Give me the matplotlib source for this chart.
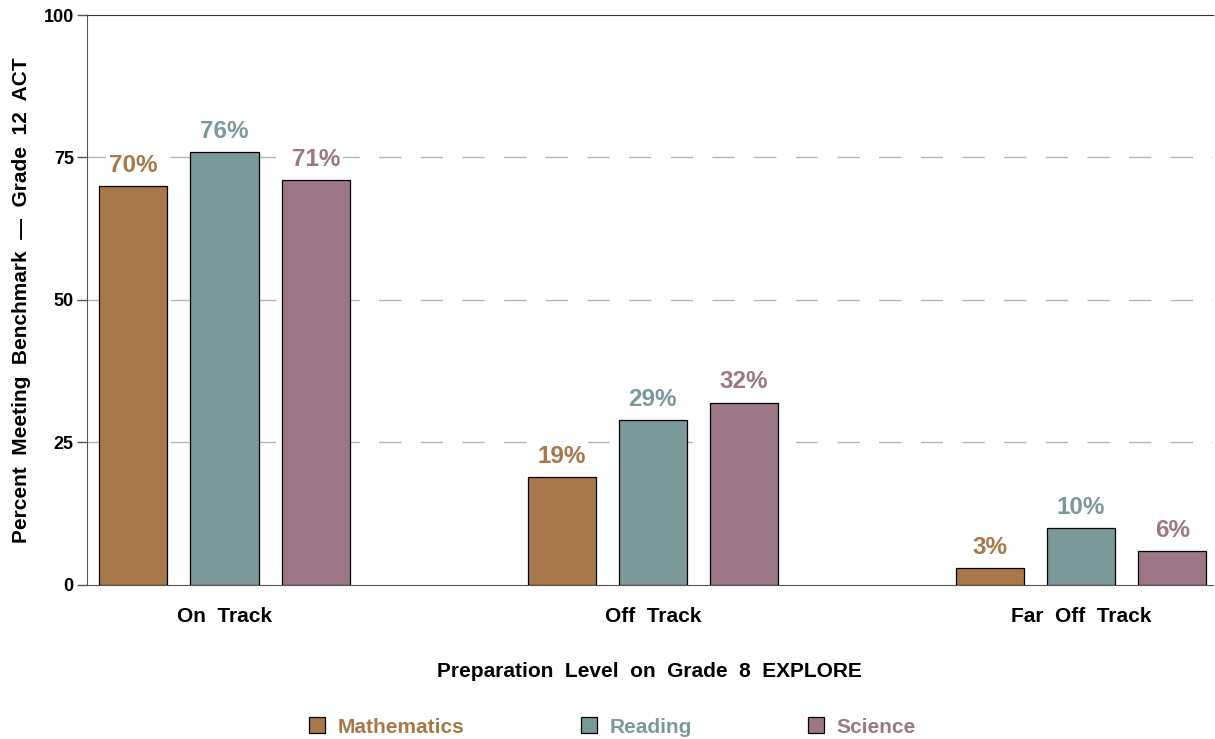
import matplotlib
matplotlib.use("Agg")
import matplotlib.pyplot as plt
import numpy as np

categories = ["On  Track", "Off  Track", "Far  Off  Track"]
series = ["Mathematics", "Reading", "Science"]
math_vals = [70, 19, 3]
reading_vals = [76, 29, 10]
science_vals = [71, 32, 6]
yticks = [0, 25, 50, 75, 100]

colors = ["#A8774A", "#7A9A9A", "#9B7787"]
text_colors = ["#A8774A", "#7A9A9A", "#9B7787"]

plt.rcParams['font.family'] = ['Liberation Sans', 'DejaVu Sans']

fig = plt.figure(figsize=(12.15, 7.39), dpi=100)
ax = fig.add_axes([0.0716, 0.2084, 0.9264, 0.7713])

x = np.arange(len(categories))
width = 0.159
offset = 0.213
vals = [math_vals, reading_vals, science_vals]
handles = []
for i, (name, v) in enumerate(zip(series, vals)):
    pos = x + (i - 1) * offset
    b = ax.bar(pos, v, width, color=colors[i], edgecolor="black", linewidth=0.9, label=name, zorder=3)
    handles.append(b)
    for p, val in zip(pos, v):
        ax.text(p, val + 1.6, f"{val}%", ha="center", va="bottom", color=text_colors[i],
                fontsize=17.5, fontweight="bold", zorder=4,
                bbox=dict(facecolor="white", edgecolor="none", pad=2))

ax.set_xlim(-0.321, 2.307)
ax.set_ylim(0, 100)
ax.set_yticks(yticks)
ax.set_yticklabels([str(t) for t in yticks], fontsize=13, fontweight="bold")
ax.set_xticks(x)
ax.set_xticklabels(categories, fontsize=15, fontweight="bold")
ax.tick_params(axis="x", length=0, pad=16)
ax.tick_params(axis="y", length=7, width=1, color="#555555", direction="out", pad=2.5)

for t in [25, 50, 75]:
    ax.axhline(t, color="#b5b5b5", linestyle=(0, (16, 14)), linewidth=1, zorder=1)

ax.spines["right"].set_visible(False)
ax.spines["top"].set_color("#333333")
ax.spines["left"].set_color("#555555")
ax.spines["bottom"].set_color("#555555")

ax.set_xlabel("Preparation  Level  on  Grade  8  EXPLORE", fontsize=15, fontweight="bold", labelpad=26)
ax.set_ylabel("Percent  Meeting  Benchmark  \u2014  Grade  12  ACT", fontsize=15, fontweight="bold", labelpad=9)

leg = fig.legend(handles, series, loc="lower center", bbox_to_anchor=(0.504, -0.022), ncol=3,
                 frameon=False, prop={"size": 15, "weight": "bold"}, labelcolor=text_colors,
                 columnspacing=5.6, handlelength=0.77, handleheight=0.77, handletextpad=0.6)

fig.savefig("out.png", dpi=100)
